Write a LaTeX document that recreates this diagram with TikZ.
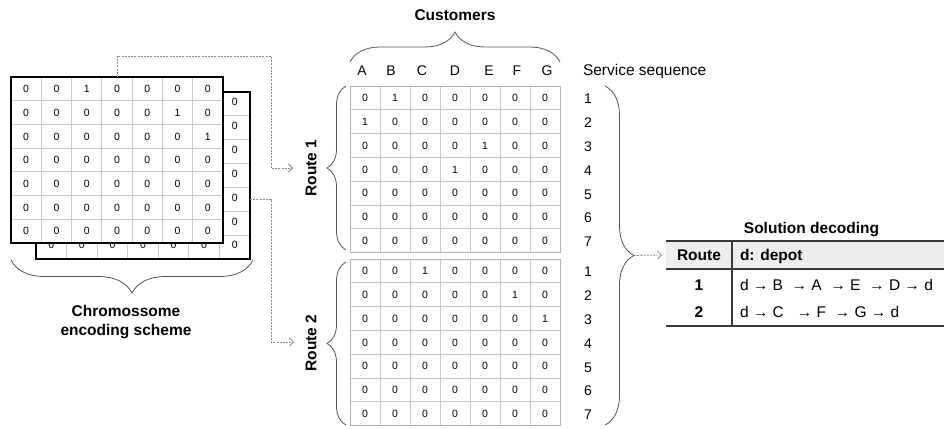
\documentclass[tikz,border=0pt]{standalone}
\usepackage{fontspec}
\setmainfont{Liberation Sans}
\usetikzlibrary{decorations.pathreplacing,arrows.meta,calc}
\definecolor{gridgray}{HTML}{C8C8C8}
\definecolor{framegray}{HTML}{B4B4B4}
\definecolor{bracegray}{HTML}{555555}
\definecolor{linkgray}{HTML}{8C8C8C}
\definecolor{headfill}{HTML}{EEEEEE}
\definecolor{rulegray}{HTML}{3A3A3A}
\begin{document}
\begin{tikzpicture}[x=1pt,y=-1pt,
  every node/.style={inner sep=0pt, outer sep=0pt},
  cellnum/.style={anchor=base, font=\fontsize{10.5}{12}\selectfont},
  seqnum/.style={anchor=base, font=\fontsize{14}{16}\selectfont},
  boldlabel/.style={anchor=base, font=\fontsize{15.5}{18}\selectfont\bfseries},
  plainlabel/.style={anchor=base, font=\fontsize{15.5}{18}\selectfont},
  routelabel/.style={rotate=90, font=\fontsize{15.5}{18}\selectfont\bfseries},
  gridline/.style={draw=gridgray, line width=0.8pt},
  matframe/.style={draw=black, line width=1.8pt},
  curly/.style={draw=bracegray, line width=0.8pt, decorate, decoration={brace, amplitude=#1}},
  link/.style={draw=linkgray, line width=0.8pt, dash pattern=on 2pt off 1.2pt,
               -{Straight Barb[length=4pt,width=8pt]}},
  tabrule/.style={draw=rulegray, line width=#1},
]
\useasboundingbox (0,0) rectangle (944,428);

% ---------- chromosome: back layer ----------
\node (back) [fill=white, minimum width=214pt, minimum height=167pt] at (143,175.5) {};
\foreach \i in {1,...,6} {
  \draw[gridline] (36+\i*30.571,92) -- (36+\i*30.571,259);
  \draw[gridline] (36,92+\i*23.857) -- (250,92+\i*23.857);
}
\foreach \r in {1,...,7}
  \node[cellnum] (b-\r-7) at (234.7, 92+\r*23.857-11.93+1.8) {0};
\foreach \c in {1,...,6}
  \node[cellnum] (b-7-\c) at (36+\c*30.571-15.29, 92+6.5*23.857+1.8) {0};
\draw[matframe] (back.north west) rectangle (back.south east);

% ---------- chromosome: front layer ----------
\node (front) [fill=white, minimum width=212pt, minimum height=166pt] at (117,160) {};
\foreach \i in {1,...,6} {
  \draw[gridline] (11+\i*30.286,77) -- (11+\i*30.286,243);
  \draw[gridline] (11,77+\i*23.714) -- (223,77+\i*23.714);
}
\foreach \row [count=\r] in {{0,0,1,0,0,0,0},{0,0,0,0,0,1,0},{0,0,0,0,0,0,1},
    {0,0,0,0,0,0,0},{0,0,0,0,0,0,0},{0,0,0,0,0,0,0},{0,0,0,0,0,0,0}} {
  \foreach \v [count=\c] in \row
    \node[cellnum] (f-\r-\c) at (11+\c*30.286-15.14, 77+\r*23.714-11.86+3.8) {\v};
}
\draw[matframe] (front.north west) rectangle (front.south east);

% chromosome caption
\draw[curly=33] (253,260) -- (11,260);
\node[boldlabel] (chromA) at (126,316.5) {Chromossome};
\node[boldlabel] (chromB) at (126,335.5) {encoding scheme};

% ---------- route matrices ----------
\foreach \top/\tag in {86/ra, 259/rb} {
  \foreach \i in {1,...,6} {
    \draw[gridline] (350+\i*30,\top) -- (350+\i*30,\top+166.6);
    \draw[gridline] (350,\top+\i*23.8) -- (560,\top+\i*23.8);
  }
  \draw[draw=framegray, line width=0.8pt] (350,\top) rectangle (560,\top+166.6);
  \foreach \s in {1,...,7}
    \node[seqnum] (\tag-seq-\s) at (588,\top+\s*23.8-11.9+6) {\s};
}
\foreach \row [count=\r] in {{0,1,0,0,0,0,0},{1,0,0,0,0,0,0},{0,0,0,0,1,0,0},
    {0,0,0,1,0,0,0},{0,0,0,0,0,0,0},{0,0,0,0,0,0,0},{0,0,0,0,0,0,0}} {
  \foreach \v [count=\c] in \row
    \node[cellnum] (ra-\r-\c) at (350+\c*30-15, 86+\r*23.8-11.9+3.8) {\v};
}
\foreach \row [count=\r] in {{0,0,1,0,0,0,0},{0,0,0,0,0,1,0},{0,0,0,0,0,0,1},
    {0,0,0,0,0,0,0},{0,0,0,0,0,0,0},{0,0,0,0,0,0,0},{0,0,0,0,0,0,0}} {
  \foreach \v [count=\c] in \row
    \node[cellnum] (rb-\r-\c) at (350+\c*30-15, 259+\r*23.8-11.9+3.8) {\v};
}

% customers header
\node[boldlabel] (cust) at (455,20.6) {Customers};
\draw[curly=30] (350,62) -- (560,62);
\foreach \l/\x in {A/362, B/391, C/422, D/455, E/489, F/517, G/547}
  \node[seqnum] (col-\l) at (\x,75) {\l};
\node[plainlabel, anchor=base west] (seqtitle) at (583,75.6) {Service sequence};

% route labels and braces
\node[routelabel] (r1lab) at (311,168) {Route 1};
\node[routelabel] (r2lab) at (311,343) {Route 2};
\draw[curly=19] (346,250) -- (346,86);
\draw[curly=19] (346,425) -- (346,262);
\draw[curly=29] (605,86) -- (605,425);

% ---------- connectors ----------
\coordinate (hop1) at (271,56);
\coordinate (r1in) at (293,168);
\draw[link] (front.north) |- (hop1) |- (r1in);
\path (back.east) ++(0,23.5) coordinate (backport);
\coordinate (hop2) at (271,342);
\coordinate (r2in) at (294,342);
\draw[link] (backport) -| (hop2) -- (r2in);

% ---------- solution decoding table ----------
\node (hdr) [fill=headfill, minimum width=278pt, minimum height=28pt] at (805,255) {};
\coordinate (btip) at (634,255.5);
\draw[link] (btip) -- ([xshift=-4pt]hdr.west);
\node[boldlabel] (soltitle) at (811.5,233) {Solution decoding};
\draw[tabrule=1.6pt] (666,241) -- (944,241);
\draw[tabrule=1.1pt] (666,269) -- (944,269);
\draw[tabrule=1.6pt] (666,326) -- (944,326);
\draw[tabrule=1.1pt] (732,241) -- (732,326);
\node[boldlabel] (hroute) at (699,260.6) {Route};
\node[boldlabel, anchor=base west] (hdepot) at (740,260.6) {d: depot};
\node[boldlabel] (id1) at (699,290.6) {1};
\node[boldlabel] (id2) at (699,317.3) {2};
\node[plainlabel, anchor=base west] (path1) at (740,290.6) {d~→~B~~→~A~~→~E~~→~D~→~d};
\node[plainlabel, anchor=base west] (path2) at (740,317.3) {d~→~C~~~→~F~~→~G~→~d};
\end{tikzpicture}
\end{document}
